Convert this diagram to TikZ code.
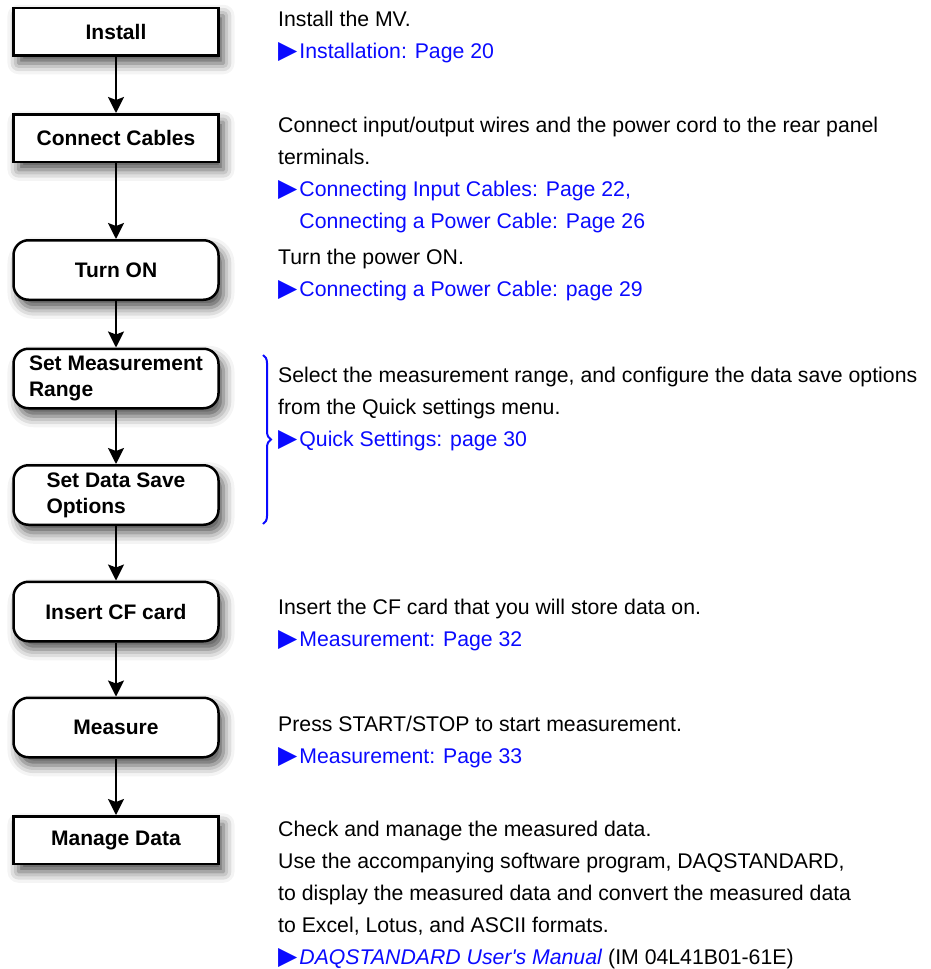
\documentclass[tikz,border=0pt]{standalone}
\usepackage{fontspec}
\setmainfont{Liberation Sans}
\newfontfamily\symfont{DejaVu Sans}
\usetikzlibrary{arrows.meta,shadows.blur,decorations.pathreplacing}
\definecolor{linkblue}{RGB}{10,10,255}
\newcommand{\refmark}{{\symfont\fontsize{25}{32}\selectfont ▶}\hspace{2pt}}
\newcommand{\refgap}{\phantom{\refmark}}

\begin{document}
\begin{tikzpicture}[x=1pt,y=-1pt]
	\tikzstyle{every node}=[inner sep=0pt]
	\tikzstyle{stepbox}=[draw, line width=2.5pt, fill=white, minimum width=205pt, align=center, font=\bfseries\fontsize{21}{26}\selectfont, blur shadow={shadow xshift=5pt, shadow yshift=-8pt, shadow blur radius=11pt, shadow opacity=70}]
	\tikzstyle{plainbox}=[stepbox, minimum height=47.5pt]
	\tikzstyle{roundbox}=[stepbox, minimum height=59.5pt, rounded corners=15pt]
	\tikzstyle{note}=[anchor=base west, align=left, font=\fontsize{21.25}{32}\selectfont]
	\tikzstyle{flow}=[line width=2pt, -{Stealth[length=16pt, width=16pt, inset=3pt]}]

	\useasboundingbox (0,0) rectangle (931,969);

	\node[plainbox] (install) at (116,31.5) {Install};
	\node[plainbox] (connect) at (116,138) {Connect Cables};
	\node[roundbox] (turnon) at (116,270) {Turn ON};
	\node[roundbox, align=left] (setrange) at (116,378.5) {Set Measurement\\Range};
	\node[roundbox, align=left] (setsave) at (116,495) {Set Data Save\\Options};
	\node[roundbox] (insertcf) at (116,611.5) {Insert CF card};
	\node[roundbox] (measure) at (116,727.5) {Measure};
	\node[plainbox] (manage) at (116,840) {Manage Data};

	\draw[flow] (install) -- (connect);
	\draw[flow] (connect) -- (turnon);
	\draw[flow] (turnon) -- (setrange);
	\draw[flow] (setrange) -- (setsave);
	\draw[flow] (setsave) -- (insertcf);
	\draw[flow] (insertcf) -- (measure);
	\draw[flow] (measure) -- (manage);

	\node[note] (installnote) at (278,58) {Install the MV.\\{\color{linkblue}\refmark Installation: Page 20}};
	\node[note] (connectnote) at (278,228) {Connect input/output wires and the power cord to the rear panel\\terminals.\\{\color{linkblue}\refmark Connecting Input Cables: Page 22,}\\{\color{linkblue}\refgap Connecting a Power Cable: Page 26}};
	\node[note] (turnonnote) at (278,296) {Turn the power ON.\\{\color{linkblue}\refmark Connecting a Power Cable: page 29}};
	\node[note] (rangenote) at (278,446) {Select the measurement range, and configure the data save options\\from the Quick settings menu.\\{\color{linkblue}\refmark Quick Settings: page 30}};
	\node[note] (cfnote) at (278,646) {Insert the CF card that you will store data on.\\{\color{linkblue}\refmark Measurement: Page 32}};
	\node[note] (measurenote) at (278,763) {Press START/STOP to start measurement.\\{\color{linkblue}\refmark Measurement: Page 33}};
	\node[note] (managenote) at (278,964) {Check and manage the measured data.\\Use the accompanying software program, DAQSTANDARD,\\to display the measured data and convert the measured data\\to Excel, Lotus, and ASCII formats.\\{\color{linkblue}\refmark\textit{DAQSTANDARD User\textquotesingle s Manual}} (IM 04L41B01-61E)};

	\coordinate (bracetop) at (263,355);
	\coordinate (bracebot) at (263,524);
	\draw[linkblue, line width=2pt, decorate, decoration={brace, amplitude=8pt}] (bracetop) -- (bracebot);

\end{tikzpicture}
\end{document}
